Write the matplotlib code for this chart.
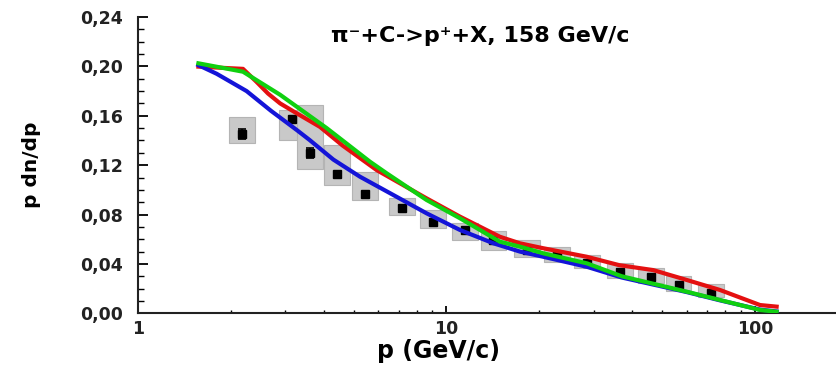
import numpy as np
import matplotlib
matplotlib.use("Agg")
import matplotlib.pyplot as plt
from matplotlib.patches import Rectangle
from matplotlib.ticker import FixedLocator, MultipleLocator, NullFormatter

# Measured proton spectrum (pi- + C -> p + X at 158 GeV/c)
p_data = [2.18, 3.15, 3.61, 4.41, 5.44, 7.16, 9.04, 11.5, 14.2, 18.2,
          22.8, 28.6, 36.6, 45.9, 56.5, 72.0]
y_data = [0.145, 0.157, 0.1296, 0.1126, 0.0964, 0.085, 0.0742, 0.0675,
          0.0594, 0.0513, 0.047, 0.0405, 0.0337, 0.0297, 0.0229, 0.0164]
y_stat = [0.004, 0.002, 0.004, 0.002, 0.002, 0.002, 0.002, 0.001,
          0.001, 0.001, 0.001, 0.001, 0.001, 0.001, 0.001, 0.001]
sys_lo = [0.138, 0.140, 0.117, 0.104, 0.0918, 0.0796, 0.069, 0.0594,
          0.0513, 0.0456, 0.0416, 0.0367, 0.0286, 0.0245, 0.018, 0.0132]
sys_hi = [0.159, 0.1646, 0.1686, 0.136, 0.1144, 0.0934, 0.0837, 0.073,
          0.0667, 0.0594, 0.0537, 0.047, 0.041, 0.0367, 0.030, 0.0237]

# Model curves
p_red = [1.57, 2.19, 2.42, 2.64, 2.89, 3.27, 3.89, 4.6, 5.94, 8.62,
         11.06, 14.9, 17.3, 20.6, 28.5, 36.3, 46.8, 60.1, 77.0, 103.8, 117.5]
y_red = [0.1998, 0.198, 0.1876, 0.178, 0.170, 0.162, 0.151, 0.136, 0.116,
         0.0931, 0.0783, 0.062, 0.0567, 0.0527, 0.0458, 0.039, 0.035,
         0.027, 0.0189, 0.0067, 0.0054]

p_green = [1.57, 2.19, 2.89, 4.09, 5.65, 6.4, 8.62, 11.06, 14.9, 17.3,
           20.6, 28.5, 37.0, 60.1, 77.0, 103.8, 117.5]
y_green = [0.2025, 0.1957, 0.177, 0.150, 0.1228, 0.1134, 0.0918, 0.077,
           0.058, 0.054, 0.0486, 0.0405, 0.030, 0.0175, 0.0108, 0.0027, 0.0013]

p_blue = [1.57, 1.8, 2.25, 2.7, 3.27, 3.6, 4.3, 5.24, 6.73, 8.62, 11.06,
          14.2, 17.3, 20.6, 28.5, 37.0, 60.1, 77.0, 103.8, 117.5]
y_blue = [0.201, 0.194, 0.180, 0.164, 0.1485, 0.1404, 0.1245, 0.1107,
          0.0958, 0.081, 0.0675, 0.0567, 0.050, 0.0458, 0.0377, 0.0290,
          0.0172, 0.0105, 0.003, 0.0015]

y_ticks = [0.00, 0.04, 0.08, 0.12, 0.16, 0.20, 0.24]
y_tick_labels = ["0,00", "0,04", "0,08", "0,12", "0,16", "0,20", "0,24"]
x_ticks = [1, 10, 100]
x_tick_labels = ["1", "10", "100"]

title_text = "π⁻+C->p⁺+X, 158 GeV/c"

plt.rcParams["font.family"] = ["DejaVu Sans"]
plt.rcParams["font.weight"] = "bold"

fig = plt.figure(figsize=(8.36, 3.65), dpi=100)
ax = fig.add_axes([0.165, 0.1416, 0.835, 0.8118])
ax.set_xscale("log")
ax.set_xlim(1, 183)
ax.set_ylim(0, 0.24)

# systematic uncertainty boxes
half = 10 ** 0.042
for p, lo, hi in zip(p_data, sys_lo, sys_hi):
    ax.add_patch(Rectangle((p / half, lo), p * half - p / half, hi - lo,
                           facecolor="#c9c9c9", edgecolor="#b4b4b4",
                           linewidth=0.8, zorder=1))

ax.errorbar(p_data, y_data, yerr=y_stat, fmt="s", color="black",
            markersize=6, capsize=3, elinewidth=1.2, capthick=1.2, zorder=3)

ax.plot(p_red, y_red, color="#e41010", lw=3, zorder=4)
ax.plot(p_green, y_green, color="#10d010", lw=3, zorder=5)
ax.plot(p_blue, y_blue, color="#1414d8", lw=3, zorder=4)

for s in ("top", "right"):
    ax.spines[s].set_visible(False)
for s in ("left", "bottom"):
    ax.spines[s].set_linewidth(1.5)
    ax.spines[s].set_color("#222222")

ax.yaxis.set_major_locator(FixedLocator(y_ticks))
ax.set_yticklabels(y_tick_labels)
ax.yaxis.set_minor_locator(MultipleLocator(0.01))
ax.xaxis.set_major_locator(FixedLocator(x_ticks))
ax.set_xticklabels(x_tick_labels)
ax.xaxis.set_minor_formatter(NullFormatter())

ax.tick_params(axis="y", which="major", direction="in", length=7, width=1.3,
               pad=11, labelsize=12.5, labelcolor="#222222")
ax.tick_params(axis="y", which="minor", direction="in", length=4, width=1.0)
ax.tick_params(axis="x", which="major", direction="in", length=5, width=1.3,
               pad=5, labelsize=12.5, labelcolor="#222222")
ax.tick_params(axis="x", which="minor", direction="in", length=2.5, width=1.0)

ax.set_ylabel("p dn/dp", fontsize=14.5, fontweight="bold", va="center")
ax.yaxis.set_label_coords(-0.153, 0.5)
ax.set_xlabel("p (GeV/c)", fontsize=17, fontweight="bold", va="center")
ax.xaxis.set_label_coords(0.43, -0.128)

ax.text(0.49, 0.935, title_text, transform=ax.transAxes, ha="center",
        va="center", fontsize=16, fontweight="bold")

fig.savefig("out.png", dpi=100)
